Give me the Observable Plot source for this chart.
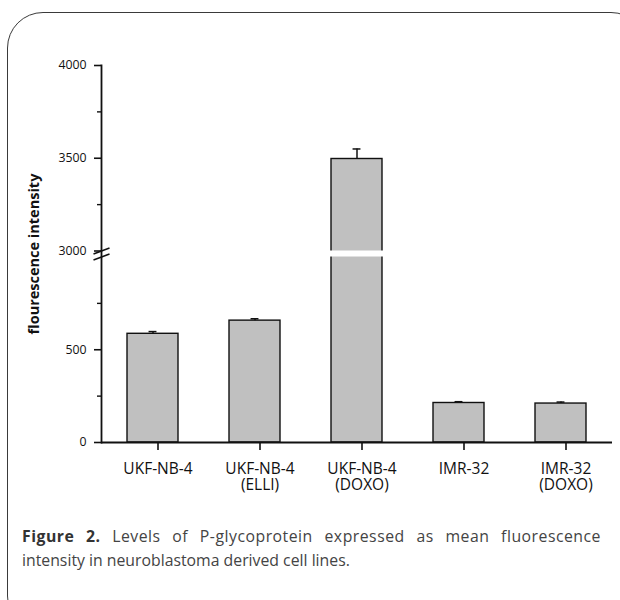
<!DOCTYPE html>
<html>
<head>
<meta charset="utf-8">
<script src="https://cdn.jsdelivr.net/npm/d3@7"></script>
<script src="https://cdn.jsdelivr.net/npm/@observablehq/plot@0.6"></script>
<style>
  html, body { margin: 0; padding: 0; background: #fff; overflow: hidden; }
  #wrap { position: relative; width: 620px; height: 600px; overflow: hidden; font-family: "Open Sans", sans-serif; }
  #border { position: absolute; left: 7px; top: 12px; width: 640px; height: 620px; border: 1.3px solid #3a3a3a; border-radius: 36px; box-sizing: border-box; }
  #chart { position: absolute; left: 0; top: 0; }
  #caption { position: absolute; left: 22px; top: 524px; width: 579px; font-size: 15.8px; line-height: 24px; color: #444; }
  #caption .l1 { text-align: justify; text-align-last: justify; white-space: nowrap; letter-spacing: 0.5px; }
  #caption .l2 { white-space: nowrap; }
  #caption b { color: #333; font-weight: 700; }
</style>
</head>
<body>
<div id="wrap">
  <div id="border"></div>
  <div id="chart"></div>
  <div id="caption"><div class="l1"><b>Figure 2.</b> Levels of P-glycoprotein expressed as mean fluorescence</div><div class="l2">intensity in neuroblastoma derived cell lines.</div></div>
</div>
<script>
const categories = ["UKF-NB-4", "UKF-NB-4\n(ELLI)", "UKF-NB-4\n(DOXO)", "IMR-32", "IMR-32\n(DOXO)"];
const values = [586, 657, 3496, 213, 210];
const errors = [12, 10, 54, 7, 8];
const majorTicks = [0, 500, 3000, 3500, 4000];
const minorTicks = [250, 750, 3250, 3750];
const breakLow = 1000;
const breakHigh = 3000;
const yMax = 4000;
const yTitle = "flourescence intensity";

const data = categories.map((c, i) => ({name: c, value: values[i], err: errors[i]}));

const width = 620, height = 500;
const marginTop = 65, marginBottom = 58, marginLeft = 101, marginRight = 8;
const y0 = height - marginBottom;
const breakGap = 6;
const perUnit = (y0 - marginTop - breakGap) / ((breakLow - 0) + (yMax - breakHigh));
const yBreakLow = y0 - breakLow * perUnit;
const yBreakHigh = yBreakLow - breakGap;

const step = (width - marginLeft - marginRight) / categories.length;
const bandwidth = step * 0.5;
const capWidth = 8;
const capInset = (bandwidth - capWidth) / 2;

const slash = {
  draw(context, size) {
    context.moveTo(-8, 3);
    context.lineTo(8, -3);
  }
};

const chart = Plot.plot({
  width, height, marginTop, marginBottom, marginLeft, marginRight,
  style: {fontFamily: "Open Sans, sans-serif", color: "#111", background: "transparent"},
  x: {domain: categories, paddingInner: 0.5, paddingOuter: 0.25},
  y: {type: "linear", domain: [0, breakLow, breakHigh, yMax], range: [y0, yBreakLow, yBreakHigh, marginTop]},
  marks: [
    Plot.barY(data, {x: "name", y: "value", fill: "#c0c0c0", stroke: "#111", strokeWidth: 1.4}),
    Plot.barY(data.filter(d => d.value > breakHigh), {x: "name", y1: breakLow, y2: breakHigh, fill: "white", insetLeft: -1.5, insetRight: -1.5}),
    Plot.ruleX(data, {x: "name", y1: "value", y2: d => d.value + d.err, stroke: "#111", strokeWidth: 1.5}),
    Plot.tickY(data, {x: "name", y: d => d.value + d.err, stroke: "#111", strokeWidth: 1.5, insetLeft: capInset, insetRight: capInset}),
    Plot.frame({anchor: "left", stroke: "#111", strokeWidth: 1.8}),
    Plot.ruleY([0], {stroke: "#111", strokeWidth: 1.8}),
    Plot.axisY({ticks: majorTicks, tickFormat: d => String(d), tickSize: 7, tickPadding: 8, fontSize: 12.3, strokeWidth: 1.6, label: null}),
    Plot.axisY({ticks: minorTicks, tickSize: 4, text: null, strokeWidth: 1.4, label: null}),
    Plot.dot([breakLow, breakHigh], {y: d => d, frameAnchor: "left", symbol: slash, r: 4, stroke: "#111", strokeWidth: 1.6, fill: "none"}),
    Plot.axisX({tickSize: 8, tickPadding: 12, fontSize: 15.5, lineHeight: 1.05, dx: 5, strokeWidth: 1.6, label: null}),
    Plot.text([yTitle], {frameAnchor: "left", textAnchor: "middle", rotate: -90, dx: -67, fontSize: 14.5, fontWeight: "bold", fill: "#111"})
  ]
});
document.getElementById("chart").appendChild(chart);
</script>
</body>
</html>
